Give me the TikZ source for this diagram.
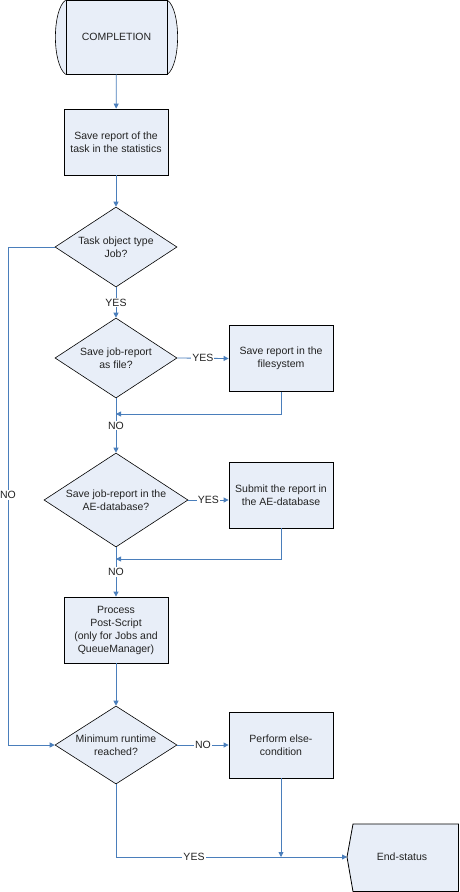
\documentclass[tikz,border=0pt]{standalone}
\usepackage{fontspec}
\setmainfont{Liberation Sans}
\usetikzlibrary{shapes.geometric,arrows.meta}
\definecolor{boxfill}{HTML}{E8EEF8}
\definecolor{flow}{HTML}{4A7EBB}
\definecolor{txt}{HTML}{222222}
\begin{document}
\begin{tikzpicture}[x=1pt,y=-1pt,
  every node/.style={font=\fontsize{10.5}{13}\selectfont, text=txt},
  proc/.style={draw=black, fill=boxfill, line width=0.8pt, minimum width=104pt, minimum height=66pt, align=center, inner sep=0pt},
  dec/.style={diamond, draw=black, fill=boxfill, line width=0.6pt, inner sep=0pt, minimum width=122pt, minimum height=80pt},
  dtext/.style={align=center, inner sep=0pt},
  flowline/.style={draw=flow, line width=0.8pt},
  arr/.style={flowline, -{Triangle[length=5pt,width=5pt]}},
  lbl/.style={fill=white, inner sep=1pt}]
\useasboundingbox (0,0) rectangle (459,892);
% terminal
\fill[boxfill] (66,0.5) .. controls (52,10) and (52,64) .. (66,74) -- (167,74) .. controls (181,64) and (181,10) .. (167,0.5) -- cycle;
\node[proc, minimum width=101pt, minimum height=73.5pt] (start) at (116.5,37.25) {COMPLETION};
\draw[line width=0.6pt] (start.north west) .. controls (52,10) and (52,64) .. (start.south west);
\draw[line width=0.6pt] (start.north east) .. controls (181,10) and (181,64) .. (start.south east);
% nodes
\node[proc] (n1) at (116,142) {Save report of the\\task in the statistics};
\node[dec] (d1) at (116,247) {};
\node[dtext] at (d1) {Task object type\\Job?};
\node[dec] (d2) at (116,358) {};
\node[dtext] at (d2) {Save job-report\\as file?};
\node[proc] (b2) at (281,358.5) {Save report in the\\filesystem};
\node[dec, minimum width=144pt, minimum height=94pt] (d3) at (116,500) {};
\node[dtext] at (d3) {Save job-report in the\\AE-database?};
\node[proc] (b3) at (281,495) {Submit the report in\\the AE-database};
\node[proc] (p) at (116,630) {Process\\Post-Script\\(only for Jobs and\\QueueManager)};
\node[dec, minimum height=78pt] (d4) at (116,745) {};
\node[dtext] at (d4) {Minimum runtime\\reached?};
\node[proc] (b4) at (281,745) {Perform else-\\condition};
\draw[line width=0.8pt, fill=boxfill] (353,824) -- (458.5,824) -- (458.5,891.5) -- (353,891.5) -- (347,857) -- cycle;
\node (end) at (402,857) {End-status};
\coordinate (endin) at (347,857);
\coordinate (j1) at (116,414);
\coordinate (j2) at (116,559);
\coordinate (cl) at (8,247);
% connectors
\draw[arr] (start) -- (n1);
\draw[arr] (n1) -- (d1);
\draw[arr] (d1.south) -- node[lbl]{YES} (d2.north);
\draw[arr] (d2.east) -- node[lbl]{YES} (b2.west);
\draw[arr] (b2.south) |- (j1);
\draw[arr] (d2.south) -- node[lbl]{NO} (d3.north);
\draw[arr] (d3.east) -- node[lbl]{YES} (d3.east -| b3.west);
\draw[arr] (b3.south) |- (j2);
\draw[arr] (d3.south) -- node[lbl]{NO} (p.north);
\draw[arr] (p) -- (d4);
\draw[arr] (d1.west) -- (cl) |- (d4.west);
\node[lbl] at (8,495) {NO};
\draw[arr] (d4.east) -- node[lbl]{NO} (b4.west);
\draw[arr] (d4.south) |- (endin);
\node[lbl] at (194,857) {YES};
\draw[arr] (b4.south) -- (b4.south |- endin);
\end{tikzpicture}
\end{document}
